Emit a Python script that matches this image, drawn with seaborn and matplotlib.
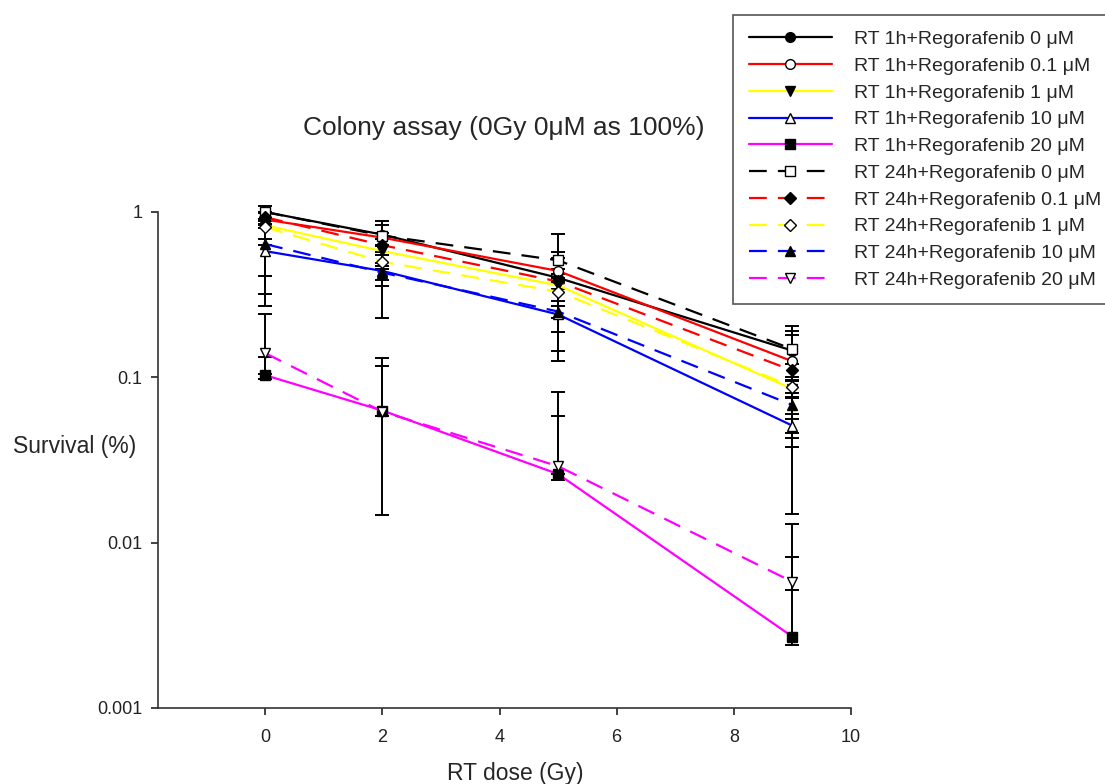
import matplotlib
matplotlib.use("Agg")
import matplotlib.pyplot as plt
import numpy as np
import seaborn as sns
from matplotlib.ticker import FixedLocator, FuncFormatter, NullLocator

# ---- data ----
dose = [0, 2, 5, 9]

labels = [
    "RT 1h+Regorafenib 0 \u03bcM",
    "RT 1h+Regorafenib 0.1 \u03bcM",
    "RT 1h+Regorafenib 1 \u03bcM",
    "RT 1h+Regorafenib 10 \u03bcM",
    "RT 1h+Regorafenib 20 \u03bcM",
    "RT 24h+Regorafenib 0 \u03bcM",
    "RT 24h+Regorafenib 0.1 \u03bcM",
    "RT 24h+Regorafenib 1 \u03bcM",
    "RT 24h+Regorafenib 10 \u03bcM",
    "RT 24h+Regorafenib 20 \u03bcM",
]

survival = [
    [1.00, 0.73, 0.40, 0.145],
    [0.90, 0.70, 0.44, 0.125],
    [0.83, 0.58, 0.36, 0.085],
    [0.58, 0.44, 0.24, 0.051],
    [0.103, 0.063, 0.026, 0.0027],
    [1.00, 0.72, 0.51, 0.148],
    [0.93, 0.63, 0.38, 0.11],
    [0.81, 0.50, 0.33, 0.088],
    [0.64, 0.43, 0.25, 0.068],
    [0.14, 0.062, 0.029, 0.0058],
]

# error bar lengths below / above the mean
err_minus = [
    [0.0, 0.10, 0.256, 0.107],
    [0.10, 0.08, 0.06, 0.11],
    [0.51, 0.224, 0.235, 0.01],
    [0.31, 0.21, 0.053, 0.005],
    [0.005, 0.0482, 0.002, 0.0003],
    [0.09, 0.10, 0.06, 0.105],
    [0.08, 0.06, 0.04, 0.01],
    [0.12, 0.05, 0.04, 0.008],
    [0.23, 0.04, 0.02, 0.008],
    [0.035, 0.004, 0.003, 0.0006],
]
err_plus = [
    [0.0, 0.15, 0.17, 0.045],
    [0.08, 0.05, 0.09, 0.055],
    [0.05, 0.05, 0.04, 0.01],
    [0.05, 0.05, 0.03, 0.005],
    [0.03, 0.054, 0.032, 0.0055],
    [0.09, 0.11, 0.225, 0.055],
    [0.06, 0.06, 0.04, 0.01],
    [0.10, 0.05, 0.04, 0.008],
    [0.20, 0.04, 0.02, 0.008],
    [0.10, 0.068, 0.052, 0.0071],
]

colors = ["black", "red", "yellow", "blue", "magenta"] * 2
markers = ["o", "o", "v", "^", "s", "s", "D", "D", "^", "v"]
fills = ["black", "white", "black", "white", "black",
         "white", "black", "white", "black", "white"]

sns.set_style("ticks")
plt.rcParams["font.family"] = ["Liberation Sans", "DejaVu Sans"]

fig = plt.figure(figsize=(11.05, 7.84), dpi=100)
ax = fig.add_axes([158 / 1105, 1 - 708 / 784, (851 - 158) / 1105, (708 - 212) / 784])
ax.set_yscale("log")

for i, lab in enumerate(labels):
    # error bars first, in black, under the markers
    eb = ax.errorbar(dose, survival[i], yerr=[err_minus[i], err_plus[i]], fmt="none",
                     ecolor="black", elinewidth=1.4, capsize=4.7, capthick=1.4, zorder=2)
    for art in eb.get_children():
        art.set_clip_on(False)

    ls = "-" if i < 5 else (0, (8, 5))
    ms = 6 if markers[i] == "D" else 7
    sns.lineplot(x=dose, y=survival[i], ax=ax, color=colors[i], linewidth=1.6,
                 linestyle=ls, marker=markers[i], markersize=ms,
                 markerfacecolor=fills[i], markeredgecolor="black", markeredgewidth=1,
                 errorbar=None, sort=False, label=lab, zorder=3, clip_on=False)

ax.set_xlim(-1.83, 10)
ax.set_ylim(0.001, 1)
ax.xaxis.set_major_locator(FixedLocator([0, 2, 4, 6, 8, 10]))
ax.yaxis.set_major_locator(FixedLocator([0.001, 0.01, 0.1, 1]))
ax.yaxis.set_minor_locator(NullLocator())
ax.yaxis.set_major_formatter(FuncFormatter(lambda v, p: f"{v:g}"))
ax.tick_params(direction="out", length=5, width=1.2, labelsize=13, pad=6, colors="#222222")
ax.tick_params(axis="x", pad=10)
sns.despine(ax=ax)
for sp in ["left", "bottom"]:
    ax.spines[sp].set_linewidth(1.2)
    ax.spines[sp].set_color("#333333")

ax.set_xlabel("RT dose (Gy)", fontsize=16.5)
ax.xaxis.set_label_coords(0.515, -0.108)
ax.set_ylabel("Survival (%)", fontsize=16.5, rotation=0, ha="left", va="center")
ax.yaxis.set_label_coords(-0.209, 0.528)

fig.text(504 / 1105, 1 - 128.5 / 784, "Colony assay (0Gy 0\u03bcM as 100%)",
         ha="center", va="center", fontsize=19)

handles, labs = ax.get_legend_handles_labels()
leg = ax.legend(handles, labs, loc="upper left", bbox_to_anchor=(733 / 1105, 1 - 15 / 784),
                bbox_transform=fig.transFigure, borderaxespad=0, fontsize=14,
                handlelength=4.3, handletextpad=1.1, labelspacing=0.47, borderpad=0.8,
                frameon=True, fancybox=False, framealpha=1, numpoints=1)
leg.get_frame().set_edgecolor("#555555")
leg.get_frame().set_linewidth(1.2)

fig.savefig("out.png", dpi=100)
